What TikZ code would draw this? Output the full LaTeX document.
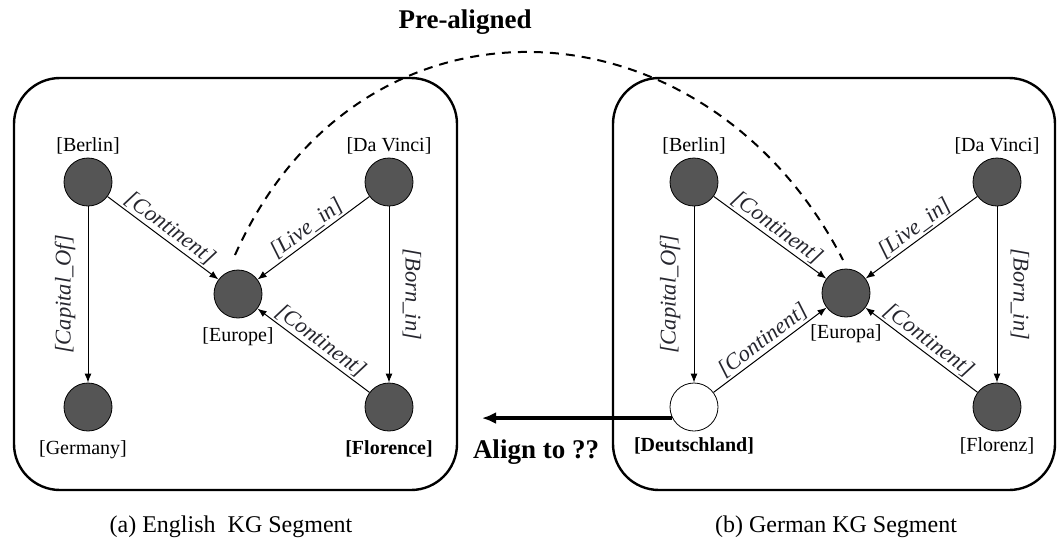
\documentclass[tikz,border=0pt]{standalone}
\usepackage{fontspec}
\setmainfont{Liberation Serif}
\usetikzlibrary{arrows.meta}
\definecolor{entfill}{HTML}{555555}
\definecolor{edgetext}{HTML}{26262E}
\tikzset{
  ent/.style={circle, draw=black, line width=0.8pt, fill=entfill, minimum size=48pt, inner sep=0pt},
  newent/.style={circle, draw=black, line width=0.8pt, fill=white, minimum size=48pt, inner sep=0pt},
  segbox/.style={draw=black, line width=2.4pt, rounded corners=46pt},
  rel/.style={draw=black, line width=1pt, -{Latex[length=9pt,width=7pt]}},
  elabel/.style={font=\fontsize{22.5}{24}\selectfont\itshape, text=edgetext, inner sep=2pt},
  nlabel/.style={font=\fontsize{20}{22}\selectfont, text=black},
  blabel/.style={font=\fontsize{20}{22}\selectfont\bfseries, text=black},
  prealign/.style={draw=black, line width=2pt, dash pattern=on 9pt off 7pt},
  alignarrow/.style={draw=black, line width=3.5pt, -{Latex[length=14pt,width=12pt]}},
  bigtext/.style={font=\fontsize{27}{29}\selectfont\bfseries},
  caption/.style={font=\fontsize{24}{26}\selectfont}
}
\begin{document}
\begin{tikzpicture}[x=1pt,y=-1pt]
\useasboundingbox (0,0) rectangle (1057,547);
% segment boxes
\draw[segbox] (14,78) rectangle (457,490);
\draw[segbox] (613,78) rectangle (1055,490);

% English KG
\node[ent, label={[nlabel]90:[Berlin]}] (eB) at (88,182) {};
\node[ent, label={[nlabel, label distance=6pt, xshift=-5pt]-90:[Germany]}] (eG) at (88,407) {};
\node[ent, label={[nlabel, label distance=6pt]-90:[Europe]}] (eE) at (238,294) {};
\node[ent, label={[nlabel]90:[Da Vinci]}] (eD) at (389,182) {};
\node[ent, label={[blabel, label distance=6pt]-90:[Florence]}] (eF) at (389,407) {};

% German KG
\node[ent, label={[nlabel]90:[Berlin]}] (gB) at (694,182) {};
\node[newent, label={[blabel, label distance=3pt]-90:[Deutschland]}] (gD) at (694,407) {};
\node[ent, label={[nlabel, label distance=4pt]-90:[Europa]}] (gE) at (846,293) {};
\node[ent, label={[nlabel]90:[Da Vinci]}] (gV) at (997,182) {};
\node[ent, label={[nlabel, label distance=3pt]-90:[Florenz]}] (gF) at (997,407) {};

% pre-aligned curve
\coordinate (preL) at (235,255);
\coordinate (preR) at (843,260);
\draw[prealign] (preL) .. controls (360,-25) and (705,-8) .. (preR);
\node[bigtext] (pre) at (465,22) {Pre-aligned};

% English edges
\draw[rel] (eB) -- node[elabel, midway, xshift=-23pt, rotate=90] {[Capital\_Of]} (eG);
\draw[rel] (eB) -- node[elabel, midway, sloped, above] {[Continent]} (eE);
\draw[rel] (eD) -- node[elabel, midway, sloped, above] {[Live\_in]} (eE);
\draw[rel] (eD) -- node[elabel, midway, xshift=23pt, rotate=-90] {[Born\_in]} (eF);
\draw[rel] (eF) -- node[elabel, midway, sloped, above] {[Continent]} (eE);

% German edges
\draw[rel] (gB) -- node[elabel, midway, xshift=-24pt, rotate=90] {[Capital\_Of]} (gD);
\draw[rel] (gB) -- node[elabel, midway, sloped, above] {[Continent]} (gE);
\draw[rel] (gV) -- node[elabel, midway, sloped, above] {[Live\_in]} (gE);
\draw[rel] (gV) -- node[elabel, midway, xshift=23pt, rotate=-90] {[Born\_in]} (gF);
\draw[rel] (gD) -- node[elabel, midway, sloped, above] {[Continent]} (gE);
\draw[rel] (gF) -- node[elabel, midway, sloped, above] {[Continent]} (gE);

% align arrow
\coordinate (alignEnd) at (482,418);
\draw[alignarrow] (gD.207) -- (gD.207 -| alignEnd);
\node[bigtext] (alignTxt) at (536,452) {Align to ??};

% captions
\node[caption] (capA) at (231,527) {(a) English~~KG Segment};
\node[caption] (capB) at (836,527) {(b) German KG Segment};
\end{tikzpicture}
\end{document}
